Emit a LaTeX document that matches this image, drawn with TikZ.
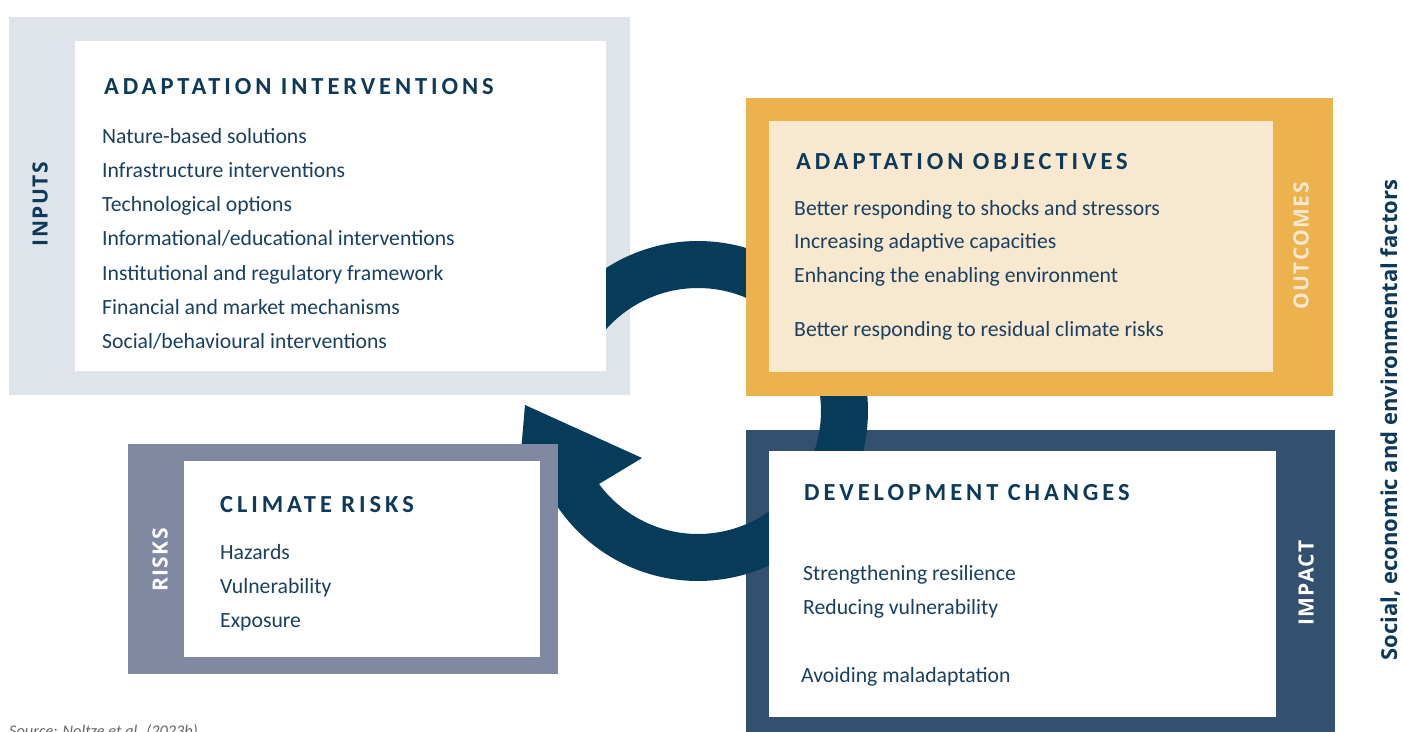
\documentclass[tikz,border=0pt]{standalone}
\usepackage{fontspec}
\setmainfont{Carlito}
\newfontfamily\headfont[LetterSpace=16]{Carlito}
\newfontfamily\labelfont[LetterSpace=7]{Open Sans}
\newfontfamily\sidefont{Open Sans}
\definecolor{inputgray}{HTML}{DFE3EA}
\definecolor{outorange}{HTML}{ECB24E}
\definecolor{outcream}{HTML}{F9E8D0}
\definecolor{impactblue}{HTML}{34506F}
\definecolor{riskgray}{HTML}{8189A2}
\definecolor{arrowc}{HTML}{063B5A}
\definecolor{headc}{HTML}{0D3A5B}
\definecolor{bodyc}{HTML}{1A3F60}
\definecolor{srcgray}{HTML}{666666}
\begin{document}
\begin{tikzpicture}[x=1pt,y=-1pt,
  body/.style={anchor=base west, inner sep=0pt, text=bodyc, font=\fontsize{21.7}{25}\selectfont},
  head/.style={anchor=base west, inner sep=0pt, text=headc, font=\headfont\bfseries\fontsize{24.5}{28}\selectfont},
  vlabel/.style={rotate=90, inner sep=0pt, font=\labelfont\bfseries\fontsize{21}{24}\selectfont}]
\useasboundingbox (0,0) rectangle (1403,731);
\fill[white] (0,0) rectangle (1403,731);
% outer panels below the arrow
\fill[inputgray] (9,17) rectangle (630,395);
\fill[impactblue] (746,430) rectangle (1335,740);
% circular arrow
\fill[arrowc] plot[domain=-150:155,samples=160] ({698+170*cos(\x)},{411+170*sin(\x)})
  -- (521,452) -- (525,405) -- (642,458)
  -- plot[domain=143.6:-150,samples=160] ({698+123*cos(\x)},{411+123*sin(\x)}) -- cycle;
% inner boxes and remaining panels
\fill[white] (75,41) rectangle (606,371);
\fill[outorange] (746,98) rectangle (1333,396);
\fill[outcream] (769,121) rectangle (1273,372);
\fill[white] (769,451) rectangle (1276,717);
\fill[riskgray] (128,444) rectangle (558,674);
\fill[white] (184,461) rectangle (540,657);
% inputs
\node[head] (h1) at (104,94) {ADAPTATION INTERVENTIONS};
\node[body] (i1) at (102,143) {Nature-based solutions};
\node[body] (i2) at (102,177.3) {Infrastructure interventions};
\node[body] (i3) at (102,211.6) {Technological options};
\node[body] (i4) at (102,245.9) {Informational/educational interventions};
\node[body] (i5) at (102,280.2) {Institutional and regulatory framework};
\node[body] (i6) at (102,314.5) {Financial and market mechanisms};
\node[body] (i7) at (102,348.8) {Social/behavioural interventions};
\node[vlabel, text=headc] (l1) at (40,204) {INPUTS};
% outcomes
\node[head] (h2) at (796,169) {ADAPTATION OBJECTIVES};
\node[body] (o1) at (794,215) {Better responding to shocks and stressors};
\node[body] (o2) at (794,248.5) {Increasing adaptive capacities};
\node[body] (o3) at (794,282.5) {Enhancing the enabling environment};
\node[body] (o4) at (794,336) {Better responding to residual climate risks};
\node[vlabel, text=outcream] (l2) at (1301,246) {OUTCOMES};
% impact
\node[head] (h3) at (804,500) {DEVELOPMENT CHANGES};
\node[body] (d1) at (803,580) {Strengthening resilience};
\node[body] (d2) at (803,614) {Reducing vulnerability};
\node[body] (d3) at (801,682) {Avoiding maladaptation};
\node[vlabel, text=white] (l3) at (1306,583) {IMPACT};
% risks
\node[head] (h4) at (220,512) {CLIMATE RISKS};
\node[body] (r1) at (220,559) {Hazards};
\node[body] (r2) at (220,593) {Vulnerability};
\node[body] (r3) at (220,627) {Exposure};
\node[vlabel, text=white] (l4) at (160,560) {RISKS};
% side label
\node[rotate=90, inner sep=0pt, text=headc, font=\sidefont\bfseries\fontsize{22}{26}\selectfont] (side) at (1390,420) {Social, economic and environmental factors};
% source
\node[anchor=base west, inner sep=0pt, text=srcgray, font=\itshape\fontsize{16.3}{19}\selectfont] (src) at (9,736) {Source: Noltze et al. (2023b)};
\end{tikzpicture}
\end{document}
